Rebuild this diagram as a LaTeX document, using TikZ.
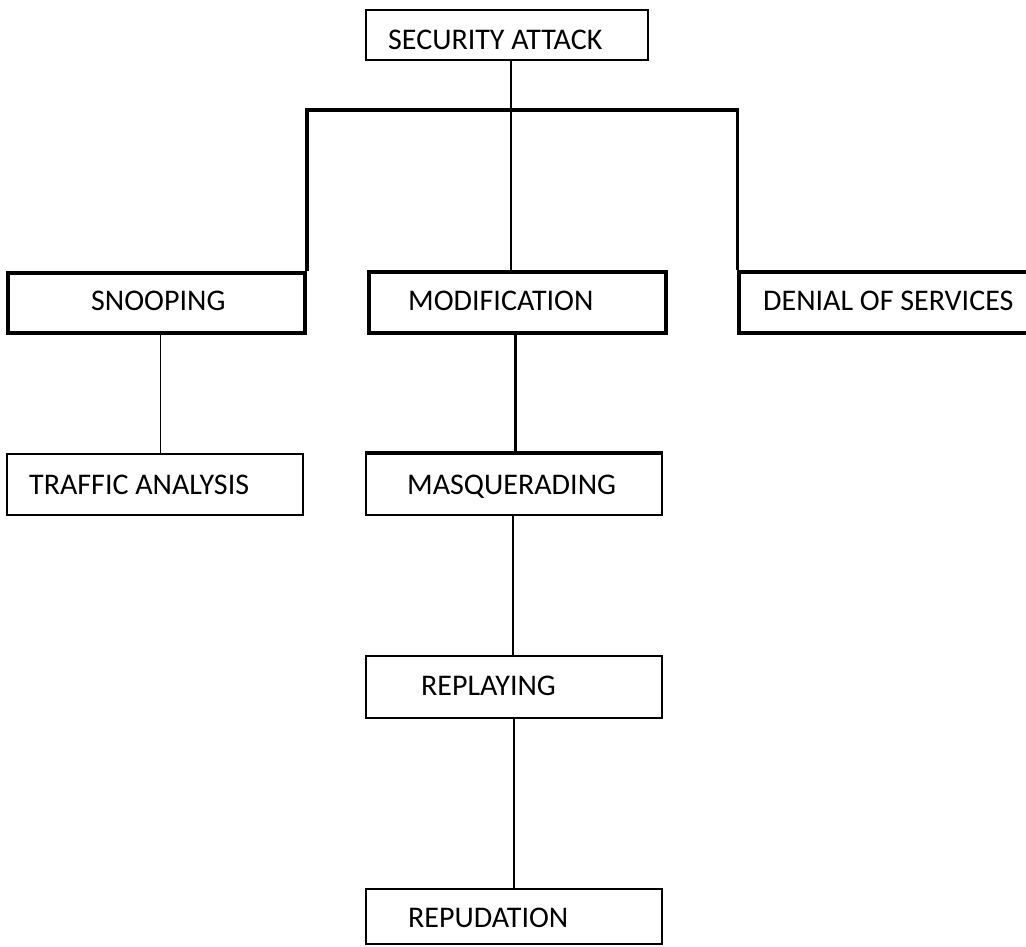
\documentclass[tikz,border=0pt]{standalone}
\usepackage{fontspec}
\setmainfont{Carlito}
\begin{document}
\begin{tikzpicture}[x=1pt,y=-1pt,
  thinbox/.style={draw=black,line width=1.8pt,fill=white,inner sep=0pt},
  thickbox/.style={draw=black,line width=3.5pt,fill=white,inner sep=0pt},
  txt/.style={anchor=base west,inner sep=0pt,font=\fontsize{30}{33}\selectfont},
  thinline/.style={line width=1.8pt},
  thickline/.style={line width=3.5pt}]
\useasboundingbox (0,0) rectangle (1026,946);
% boxes, given by their corners
\newcommand{\boxat}[6]{\node[#1,minimum width=#5-#3,minimum height=#6-#4] (#2) at ({(#3+#5)/2},{(#4+#6)/2}) {};}
\boxat{thinbox}{sa}{366}{10}{648}{60}
\boxat{thickbox}{snoop}{8}{273}{305}{333}
\boxat{thickbox}{modif}{369}{272}{666}{333}
\boxat{thickbox}{denial}{739}{272}{1040}{333}
\boxat{thinbox}{traffic}{7}{454}{303}{515}
\boxat{thinbox}{masq}{366}{454}{662}{515}
\boxat{thinbox}{replay}{366}{656}{662}{718}
\boxat{thinbox}{repud}{366}{889}{662}{944}
% labels
\node[txt] (tsa) at (388,49) {SECURITY ATTACK};
\node[txt] (tsnoop) at (91,310) {SNOOPING};
\node[txt] (tmodif) at (408,310) {MODIFICATION};
\node[txt] (tdenial) at (763,310) {DENIAL OF SERVICES};
\node[txt] (ttraffic) at (29,494) {TRAFFIC ANALYSIS};
\node[txt] (tmasq) at (407,494) {MASQUERADING};
\node[txt] (treplay) at (421,695) {REPLAYING};
\node[txt] (trepud) at (408,927) {REPUDATION};
% connectors
\coordinate (bus) at (511,110);
\draw[thickline] (snoop.north east) |- (bus) -| (denial.north west);
\draw[thinline] (sa.south -| bus) -- (bus) -- (bus |- modif.north);
\draw[thinline] (snoop.south) ++(4,0) coordinate (s1) -- (s1 |- traffic.north);
\draw[thickline] (modif.south) ++(-2,0) coordinate (m1) -- (m1 |- masq.north);
\draw[thickline] (masq.north west) -- (masq.north east);
\draw[thinline] (masq.south) ++(-1,0) coordinate (q1) -- (q1 |- replay.north);
\draw[thinline] (replay.south) -- (replay.south |- repud.north);
\end{tikzpicture}
\end{document}
